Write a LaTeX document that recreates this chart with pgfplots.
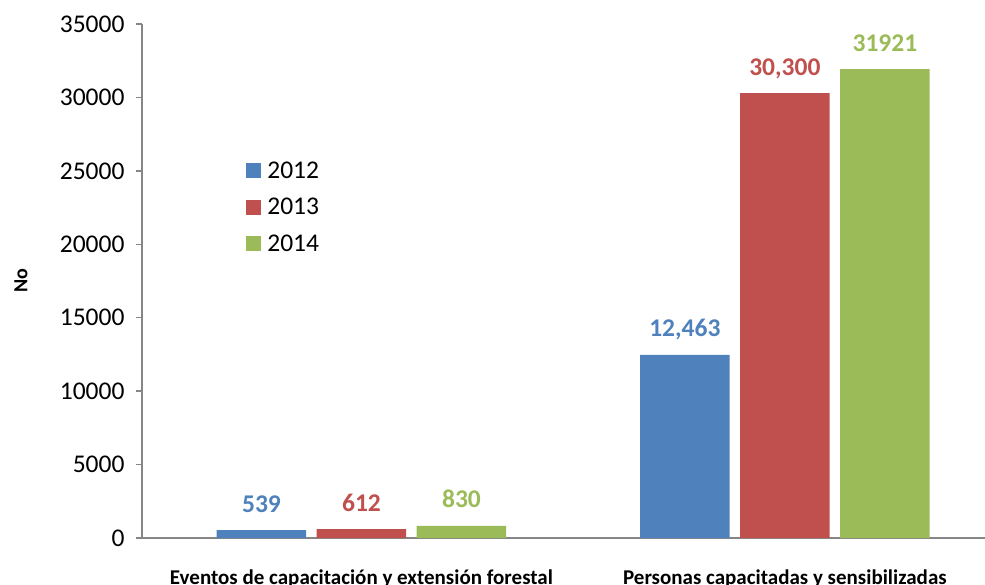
\documentclass[border=0pt]{standalone}
\usepackage{pgfplots}
\usepackage{pgfplotstable}
\pgfplotsset{compat=1.18}
\usepackage{fontspec}
\setmainfont{Carlito}
\definecolor{c12}{HTML}{4F81BD}
\definecolor{c13}{HTML}{C0504D}
\definecolor{c14}{HTML}{9BBB59}
\definecolor{axgray}{HTML}{868686}
\pgfplotstableread{
x y lab
0 539 539
1 12463 {12,463}
}\dataA
\pgfplotstableread{
x y lab
0 612 612
1 30300 {30,300}
}\dataB
\pgfplotstableread{
x y lab
0 830 830
1 31921 31921
}\dataC
\begin{document}
\begin{tikzpicture}
\begin{axis}[
  at={(0,0)}, anchor=south west,
  width=843pt, height=514pt, scale only axis,
  xmin=-0.5183, xmax=1.4726, ymin=0, ymax=35000,
  axis x line*=bottom, axis y line*=left,
  axis line style={-, axgray, line width=1.3pt},
  ybar=10.5pt, bar width=89.5pt,
  xtick={0,1},
  xticklabels={Eventos de capacitación y extensión forestal, Personas capacitadas y sensibilizadas},
  x tick style={draw=none},
  x tick label style={font=\fontsize{21}{24}\selectfont\bfseries, anchor=base, yshift=-40pt},
  ytick={0,5000,...,35000},
  scaled y ticks=false,
  y tick style={axgray, line width=1.3pt},
  tick align=outside, major tick length=6pt,
  /pgf/number format/assume math mode=true,
  y tick label style={font=\fontsize{25.5}{28}\selectfont, /pgf/number format/1000 sep={}, xshift=-8pt},
  ylabel={\textbf{No}},
  ylabel style={font=\fontsize{20}{24}\selectfont, at={(axis description cs:-0.1435,0.5)}, anchor=center},
  point meta=explicit symbolic,
  nodes near coords,
  every node near coord/.append style={font=\fontsize{25.5}{28}\selectfont\bfseries, anchor=base, yshift=18pt},
  legend style={draw=none, fill=none, at={(axis description cs:0.12,0.74)}, anchor=north west,
    font=\fontsize{25.5}{28}\selectfont, row sep=14.5pt, column sep=4pt, nodes={inner sep=2pt}},
  legend cell align=left,
  legend image code/.code={\fill[#1] (0pt,-7.5pt) rectangle (15pt,7.5pt);},
]
\addplot[fill=c12, draw=none, every node near coord/.append style={text=c12}] table[x=x,y=y,meta=lab]{\dataA};
\addplot[fill=c13, draw=none, every node near coord/.append style={text=c13}] table[x=x,y=y,meta=lab]{\dataB};
\addplot[fill=c14, draw=none, every node near coord/.append style={text=c14}] table[x=x,y=y,meta=lab]{\dataC};
\legend{2012,2013,2014}
\end{axis}
\pgfresetboundingbox
\path (-142pt,-46pt) rectangle (843pt,538pt);
\end{tikzpicture}
\end{document}
